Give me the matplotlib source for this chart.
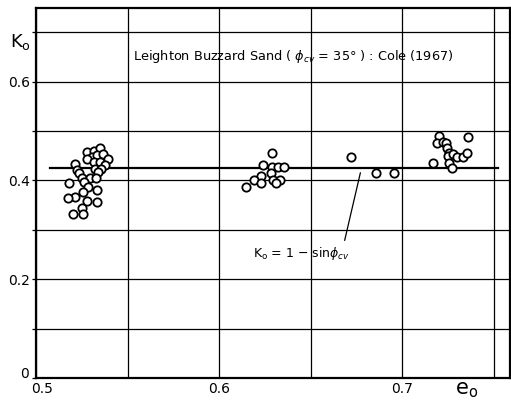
import matplotlib
matplotlib.use('Agg')
import matplotlib.pyplot as plt
import matplotlib.transforms as mtransforms

# data
e_set1 = [0.5280, 0.5317, 0.5350, 0.5304, 0.5332, 0.5364, 0.5277, 0.5395, 0.5317, 0.5350,
          0.5377, 0.5213, 0.5222, 0.5322, 0.5355, 0.5237, 0.5340, 0.5250, 0.5295, 0.5326,
          0.5262, 0.5182, 0.5286, 0.5332, 0.5258, 0.5213, 0.5177, 0.5280, 0.5332, 0.5250,
          0.5204, 0.5258]
k_set1 = [0.458, 0.460, 0.465, 0.448, 0.451, 0.453, 0.443, 0.443, 0.438, 0.437,
          0.431, 0.433, 0.422, 0.424, 0.424, 0.414, 0.416, 0.404, 0.404, 0.405,
          0.397, 0.394, 0.387, 0.381, 0.377, 0.367, 0.365, 0.358, 0.356, 0.344,
          0.331, 0.331]

e_set2 = [0.6288, 0.6242, 0.6288, 0.6321, 0.6355, 0.6283, 0.6228, 0.6191, 0.6293, 0.6333,
          0.6228, 0.6311, 0.6148]
k_set2 = [0.456, 0.431, 0.427, 0.428, 0.428, 0.414, 0.409, 0.401, 0.401, 0.401,
          0.394, 0.394, 0.386]

e_set3 = [0.6720, 0.6856, 0.6958]
k_set3 = [0.448, 0.414, 0.414]

e_set4 = [0.7204, 0.7190, 0.7222, 0.7240, 0.7244, 0.7258, 0.7253, 0.7280, 0.7302, 0.7335,
          0.7357, 0.7362, 0.7171, 0.7258, 0.7271]
k_set4 = [0.490, 0.475, 0.478, 0.475, 0.465, 0.456, 0.449, 0.453, 0.447, 0.448,
          0.456, 0.487, 0.435, 0.436, 0.426]

k0_line = 0.426          # 1 - sin(35 deg)
line_e = [0.5077, 0.7525]

x_ticks = [0.5, 0.55, 0.6, 0.65, 0.7, 0.75]
x_labels = ['0.5', '', '0.6', '', '0.7', '']
y_ticks = [0.0, 0.1, 0.2, 0.3, 0.4, 0.5, 0.6, 0.7]
y_labels = ['0', '', '0.2', '', '0.4', '', '0.6', '']

fig = plt.figure(figsize=(5.11, 4.03), dpi=100)
ax = fig.add_axes([36 / 511, 1 - 378 / 403, 474 / 511, 370 / 403])

ax.set_xlim(0.5, 0.759)
ax.set_ylim(0, 0.749)
ax.set_xticks(x_ticks)
ax.set_xticklabels(x_labels)
ax.set_yticks(y_ticks)
ax.set_yticklabels(y_labels)
ax.grid(True, color='black', linewidth=0.9)
ax.set_axisbelow(True)
ax.tick_params(axis='x', length=0, labelsize=10, pad=3)
ax.tick_params(axis='y', length=3, width=0.9, labelsize=10, pad=1)
for s in ax.spines.values():
    s.set_linewidth(1.6)

# nudge the two corner labels apart like in the original
ax.get_xticklabels()[0].set_transform(
    ax.get_xticklabels()[0].get_transform() + mtransforms.ScaledTranslation(6 / 100, 0, fig.dpi_scale_trans))
ax.get_yticklabels()[0].set_transform(
    ax.get_yticklabels()[0].get_transform() + mtransforms.ScaledTranslation(-2 / 100, 6 / 100, fig.dpi_scale_trans))

# theory line
ax.plot(line_e, [k0_line, k0_line], color='black', linewidth=1.6)

for e, k in [(e_set1, k_set1), (e_set2, k_set2), (e_set3, k_set3), (e_set4, k_set4)]:
    ax.plot(e, k, 'o', markersize=6, markerfacecolor='white',
            markeredgecolor='black', markeredgewidth=1.3, zorder=3)

ax.text(0.553, 0.650, r'Leighton Buzzard Sand ( $\phi_{cv}$ = 35° ) : Cole (1967)',
        fontsize=9.3, va='center', ha='left')

ax.annotate('', xy=(0.6776, 0.421), xytext=(0.6683, 0.273),
            arrowprops=dict(arrowstyle='-', color='black', linewidth=0.9))
ax.text(0.6186, 0.253, r'K$_{\mathrm{o}}$ = 1 $-$ sin$\phi_{cv}$', fontsize=9,
        va='center', ha='left')

fig.text(10 / 511, 1 - 42 / 403, r'K$_{\mathrm{o}}$', fontsize=13, va='center', ha='left')
fig.text(455 / 511, 1 - 390 / 403, r'e$_{\mathrm{o}}$', fontsize=15, va='center', ha='left')

fig.savefig('out.png', dpi=100)
